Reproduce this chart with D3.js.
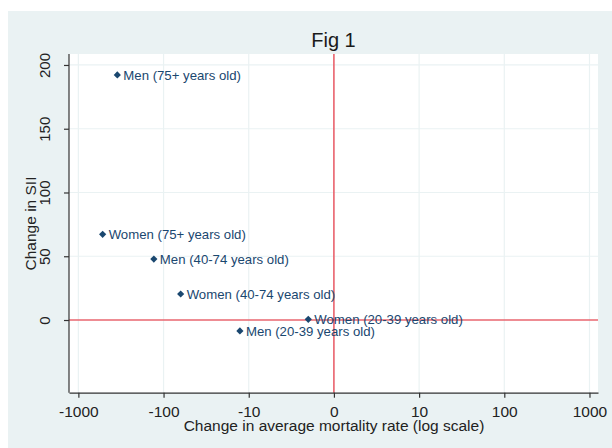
<!DOCTYPE html>
<html><head><meta charset="utf-8">
<script src="https://cdn.jsdelivr.net/npm/d3@7"></script>
<style>
body{margin:0;background:#fff}
svg{display:block}
text{font-family:"Liberation Sans",Arial,Helvetica,sans-serif}
</style>
</head><body>
<svg id="chart" width="612" height="448"></svg>
<script>
// ---- data ----
const groups = ["Men (75+ years old)","Women (75+ years old)","Men (40-74 years old)","Women (40-74 years old)","Women (20-39 years old)","Men (20-39 years old)"];
const mortalityChange = [-349, -519, -130, -63, -2.0, -12.7];
const siiChange = [192.2, 67.2, 47.8, 20.4, 0.5, -8.6];
const xTickValues = [-1000, -100, -10, 0, 10, 100, 1000];
const xTickLabels = ["-1000", "-100", "-10", "0", "10", "100", "1000"];
const yTickValues = [0, 50, 100, 150, 200];
const yTickLabels = ["0", "50", "100", "150", "200"];

// ---- layout ----
const svg = d3.select("#chart");
const W = 612, H = 448;
const L = 69, R = 598, T = 54, B = 392.7;
const navy = "#1a476f", grid = "#eaf2f3", red = "#e8202f", axisCol = "#333";

// signed log10 (0 stays at 0)
const slog = v => v === 0 ? 0 : Math.sign(v) * Math.log10(Math.abs(v));

const x = d3.scaleLinear().domain([-3.11, 3.10]).range([L, R]);
const y = d3.scaleLinear().domain([-57, 208.6]).range([B, T]);

// backgrounds
svg.append("rect").attr("x", 0).attr("y", 0).attr("width", W).attr("height", H).attr("fill", "#fff");
svg.append("rect").attr("x", 8).attr("y", 11).attr("width", W - 8).attr("height", H - 11).attr("fill", grid);
svg.append("rect").attr("x", L).attr("y", T).attr("width", R - L).attr("height", B - T).attr("fill", "#fff");

// gridlines
svg.append("g").selectAll("line").data(xTickValues).join("line")
  .attr("x1", d => x(slog(d))).attr("x2", d => x(slog(d)))
  .attr("y1", T).attr("y2", B)
  .attr("stroke", grid).attr("stroke-width", 1.2);
svg.append("g").selectAll("line").data(yTickValues).join("line")
  .attr("x1", L).attr("x2", R)
  .attr("y1", d => y(d)).attr("y2", d => y(d))
  .attr("stroke", grid).attr("stroke-width", 1.2);

// reference lines
svg.append("line").attr("x1", x(0)).attr("x2", x(0)).attr("y1", T).attr("y2", B)
  .attr("stroke", red).attr("stroke-width", 1.1);
svg.append("line").attr("x1", L).attr("x2", R).attr("y1", y(0)).attr("y2", y(0))
  .attr("stroke", red).attr("stroke-width", 1.1);

// x axis
const xAxis = d3.axisBottom(x)
  .tickValues(xTickValues.map(slog))
  .tickFormat((d, i) => xTickLabels[i])
  .tickSize(5).tickSizeOuter(0).tickPadding(8);
const gx = svg.append("g").attr("transform", `translate(0,${B})`).call(xAxis);
gx.select(".domain").attr("stroke", axisCol).attr("stroke-width", 1.2);
gx.selectAll(".tick line").attr("stroke", axisCol).attr("stroke-width", 1.2);
gx.selectAll(".tick text").attr("font-size", 15.5).attr("fill", "#222")
  .attr("font-family", "Liberation Sans, Arial, sans-serif");

// y axis
const yAxis = d3.axisLeft(y)
  .tickValues(yTickValues)
  .tickFormat((d, i) => yTickLabels[i])
  .tickSize(5).tickSizeOuter(0);
const gy = svg.append("g").attr("transform", `translate(${L},0)`).call(yAxis);
gy.select(".domain").attr("stroke", axisCol).attr("stroke-width", 1.2)
  .attr("d", `M0,${T}V${B}`);
gy.selectAll(".tick line").attr("stroke", axisCol).attr("stroke-width", 1.2);
gy.selectAll(".tick text")
  .attr("x", null).attr("dy", null)
  .attr("transform", "translate(-19,0) rotate(-90)")
  .attr("text-anchor", "middle")
  .attr("font-size", 15).attr("fill", "#222")
  .attr("font-family", "Liberation Sans, Arial, sans-serif");

// points
const pts = groups.map((g, i) => ({ g, mx: mortalityChange[i], sy: siiChange[i] }));
const diamond = d3.symbol(d3.symbolSquare, 26)();
svg.append("g").selectAll("path").data(pts).join("path")
  .attr("d", diamond)
  .attr("transform", d => `translate(${x(slog(d.mx))},${y(d.sy)}) rotate(45)`)
  .attr("fill", navy);
svg.append("g").selectAll("text").data(pts).join("text")
  .attr("x", d => x(slog(d.mx)) + 6)
  .attr("y", d => y(d.sy))
  .attr("dy", "0.36em")
  .attr("font-size", 13.2)
  .attr("fill", navy)
  .text(d => d.g);

// titles
svg.append("text").attr("x", 333.5).attr("y", 47).attr("text-anchor", "middle")
  .attr("font-size", 20).attr("fill", "#1a1a1a").text("Fig 1");
svg.append("text").attr("x", 334).attr("y", 431).attr("text-anchor", "middle")
  .attr("font-size", 15.5).attr("fill", "#222").text("Change in average mortality rate (log scale)");
svg.append("text").attr("transform", "translate(36,223.5) rotate(-90)").attr("text-anchor", "middle")
  .attr("font-size", 15.5).attr("fill", "#222").text("Change in SII");
</script>
</body></html>
